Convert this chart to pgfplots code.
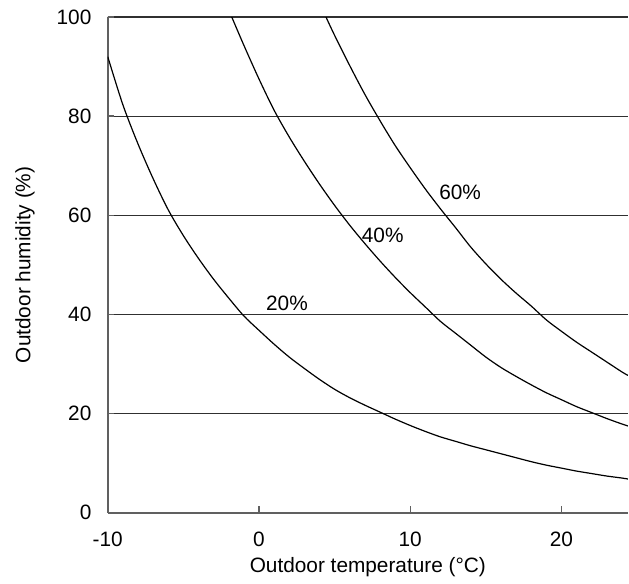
\documentclass[border=0pt]{standalone}
\usepackage{fontspec}
\setmainfont{Liberation Sans}
\usepackage{pgfplots}
\pgfplotsset{compat=1.18}
\definecolor{axgray}{HTML}{606060}
\definecolor{gridc}{HTML}{303030}
\begin{document}
\begin{tikzpicture}
\begin{axis}[
  name=ax,
  scale only axis,
  width=260pt, height=247.75pt,
  xmin=-10, xmax=24.4, ymin=0, ymax=100,
  axis lines=left,
  axis line style={axgray, line width=1pt, -},
  xtick={-10,0,10,20}, xticklabels={-10,0,10,20},
  ytick={0,20,40,60,80,100}, yticklabels={0,20,40,60,80,100},
  tick align=inside,
  major tick length=3.3pt,
  tick style={axgray, line width=0.7pt},
  ymajorgrids=true,
  grid style={gridc, line width=0.6pt},
  font=\fontsize{10.4}{12.5}\selectfont,
  xticklabel style={anchor=north, inner sep=0pt, yshift=-9.3pt},
  yticklabel style={anchor=east, inner sep=0pt, xshift=-8pt},
  xlabel={Outdoor temperature (°C)},
  ylabel={Outdoor humidity (\%)},
  xlabel style={at={(axis description cs:0.5,-0.1211)}, anchor=base},
  ylabel style={at={(axis description cs:-0.159,0.5)}, anchor=center, rotate=0},
  clip=true,
]
% 20% curve
\addplot[black, line width=0.6pt, smooth] coordinates {
(-10,92) (-9,82.3) (-8,74.4) (-7,67.4) (-6,61.1) (-5,55.9) (-4,51.3) (-3,47.1) (-2,43.3) (-1,39.7)
(0,36.8) (1,34.0) (2,31.4) (3,29.1) (4,26.9) (5,24.9) (6,23.2) (7,21.7) (8,20.3) (9,18.9)
(10,17.6) (11,16.4) (12,15.3) (13,14.4) (14,13.5) (15,12.7) (16,11.9) (17,11.1) (18,10.3) (19,9.6)
(20,9.0) (21,8.4) (22,7.9) (23,7.4) (24,7.0) (24.4,6.8)
};
% 40% curve
\addplot[black, line width=0.6pt, smooth] coordinates {
(-1.8,100) (-1,94.3) (0,87.5) (1,81.2) (2,75.8) (3,70.9) (4,66.3) (5,62.0) (6,58.0) (7,54.3)
(8,50.8) (9,47.5) (10,44.4) (11,41.5) (12,38.6) (13,36.2) (14,33.8) (15,31.4) (16,29.3) (17,27.5)
(18,25.8) (19,24.2) (20,22.8) (21,21.4) (22,20.2) (23,19.0) (24,17.9) (24.4,17.5)
};
% 60% curve
\addplot[black, line width=0.6pt, smooth] coordinates {
(4.43,100) (5,96.3) (6,90.2) (7,84.4) (8,79.1) (9,74.1) (10,69.6) (11,65.3) (12,61.3) (13,57.5)
(14,53.6) (15,50.2) (16,47.1) (17,44.3) (18,41.7) (19,38.9) (20,36.6) (21,34.4) (22,32.4) (23,30.4)
(24,28.4) (24.4,27.7)
};
\node[font=\fontsize{10.4}{12.5}\selectfont] at (axis cs:1.85,42.3) {20\%};
\node[font=\fontsize{10.4}{12.5}\selectfont] at (axis cs:8.18,55.9) {40\%};
\node[font=\fontsize{10.4}{12.5}\selectfont] at (axis cs:13.3,64.7) {60\%};
\end{axis}
\useasboundingbox ([xshift=-53.85pt,yshift=-35pt]ax.south west) rectangle ([xshift=0.5pt,yshift=8.5pt]ax.north east);
\end{tikzpicture}
\end{document}
